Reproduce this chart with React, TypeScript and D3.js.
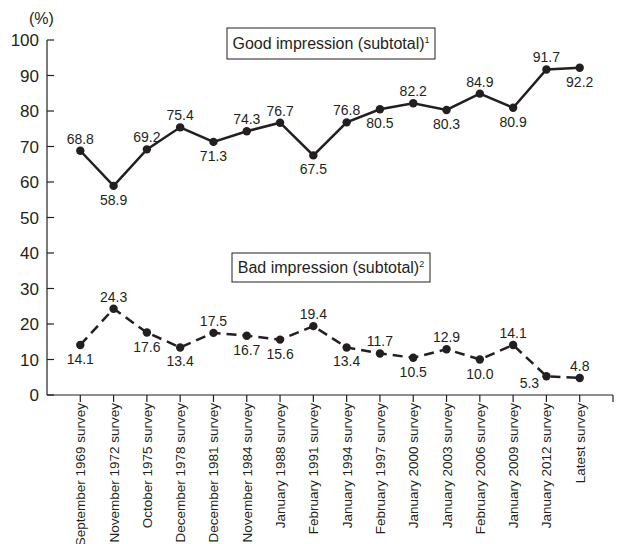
import React from "react";
import * as d3 from "d3";

const categories = [
  "September 1969 survey",
  "November 1972 survey",
  "October 1975 survey",
  "December 1978 survey",
  "December 1981 survey",
  "November 1984 survey",
  "January 1988 survey",
  "February 1991 survey",
  "January 1994 survey",
  "February 1997 survey",
  "January 2000 survey",
  "January 2003 survey",
  "February 2006 survey",
  "January 2009 survey",
  "January 2012 survey",
  "Latest survey",
];
const goodValues = [68.8, 58.9, 69.2, 75.4, 71.3, 74.3, 76.7, 67.5, 76.8, 80.5, 82.2, 80.3, 84.9, 80.9, 91.7, 92.2];
const badValues = [14.1, 24.3, 17.6, 13.4, 17.5, 16.7, 15.6, 19.4, 13.4, 11.7, 10.5, 12.9, 10.0, 14.1, 5.3, 4.8];
// label placement: 1 = above, -1 = below, 2 = below-left
const goodPos = [1, -1, 1, 1, -1, 1, 1, -1, 1, -1, 1, -1, 1, -1, 1, -1];
const badPos = [-1, 1, -1, -1, 1, -1, -1, 1, -1, 1, -1, 1, -1, 1, 2, 1];
const yTicks = [0, 10, 20, 30, 40, 50, 60, 70, 80, 90, 100];

const FONT = "'Liberation Sans Narrow', 'Arial Narrow', 'Liberation Sans', Arial, sans-serif";

export default function App() {
  const x = d3.scaleLinear().domain([0, categories.length + 1]).range([47, 613]);
  const y = d3.scaleLinear().domain([0, 100]).range([395, 40]);
  const line = d3
    .line<number>()
    .x((_, i) => x(i + 1))
    .y((d) => y(d));

  const labelY = (v: number, p: number) => (p === 1 ? y(v) - 7 : p === 2 ? y(v) + 12 : y(v) + 19);
  const labelX = (i: number, p: number) => (p === 2 ? x(i + 1) - 17 : x(i + 1));

  return (
    <svg width={619} height={544} style={{ position: "absolute", left: 0, top: 0, background: "#fff" }} fontFamily={FONT}>
      <rect width={619} height={544} fill="#fff" />
      <text x={29} y={24} fontSize={16} fill="#231f20">(%)</text>
      {/* y axis */}
      <line x1={47} x2={47} y1={y(100)} y2={y(0)} stroke="#231f20" strokeWidth={1.2} />
      {yTicks.map((t) => (
        <g key={t}>
          <line x1={47} x2={54} y1={y(t)} y2={y(t)} stroke="#231f20" strokeWidth={1.2} />
          <text x={39} y={y(t)} dy="0.36em" textAnchor="end" fontSize={17} fill="#231f20">{t}</text>
        </g>
      ))}
      {/* x axis */}
      <line x1={47} x2={613} y1={y(0)} y2={y(0)} stroke="#231f20" strokeWidth={1.2} />
      {d3.range(1, categories.length + 2).map((i) => (
        <line key={i} x1={x(i)} x2={x(i)} y1={y(0)} y2={y(0) + 7} stroke="#231f20" strokeWidth={1.2} />
      ))}
      {categories.map((c, i) => (
        <text
          key={c}
          transform={`translate(${x(i + 1) + 5},${y(0) + 8}) rotate(-90)`}
          textAnchor="end"
          fontSize={13.5}
          fill="#231f20"
        >
          {c}
        </text>
      ))}
      {/* good line */}
      <path d={line(goodValues) || ""} fill="none" stroke="#231f20" strokeWidth={2.5} />
      {goodValues.map((v, i) => (
        <circle key={i} cx={x(i + 1)} cy={y(v)} r={4.2} fill="#231f20" />
      ))}
      {goodValues.map((v, i) => (
        <text key={i} x={labelX(i, goodPos[i])} y={labelY(v, goodPos[i])} textAnchor="middle" fontSize={14} fill="#231f20">
          {v.toFixed(1)}
        </text>
      ))}
      {/* bad line */}
      <path d={line(badValues) || ""} fill="none" stroke="#231f20" strokeWidth={2.5} strokeDasharray="10,6" />
      {badValues.map((v, i) => (
        <circle key={i} cx={x(i + 1)} cy={y(v)} r={4.2} fill="#231f20" />
      ))}
      {badValues.map((v, i) => (
        <text key={i} x={labelX(i, badPos[i])} y={labelY(v, badPos[i])} textAnchor="middle" fontSize={14} fill="#231f20">
          {v.toFixed(1)}
        </text>
      ))}
      {/* legend boxes */}
      <rect x={227} y={28} width={208} height={31} fill="#fff" stroke="#231f20" strokeWidth={1} />
      <text x={331} y={49} textAnchor="middle" fontSize={16} fill="#231f20">
        Good impression (subtotal)<tspan fontSize={9} dy={-6}>1</tspan>
      </text>
      <rect x={232} y={253} width={198} height={29} fill="#fff" stroke="#231f20" strokeWidth={1} />
      <text x={331} y={273} textAnchor="middle" fontSize={16} fill="#231f20">
        Bad impression (subtotal)<tspan fontSize={9} dy={-6}>2</tspan>
      </text>
    </svg>
  );
}
